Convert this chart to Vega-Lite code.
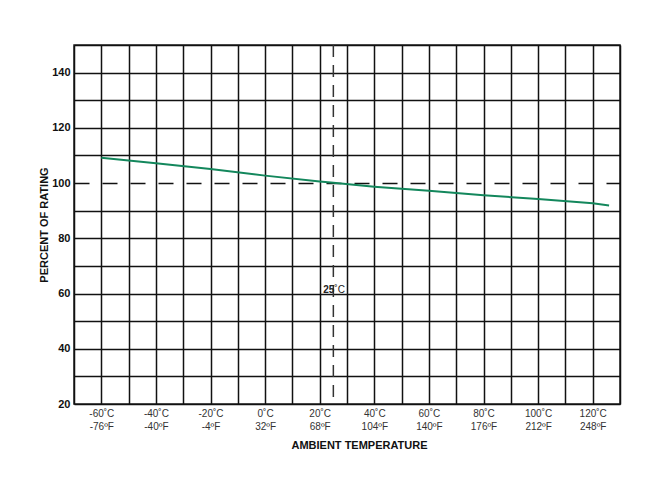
{
  "$schema": "https://vega.github.io/schema/vega-lite/v6.json",
  "autosize": {"type": "none"},
  "width": 546,
  "height": 359,
  "padding": {"left": 74, "top": 45, "right": 27, "bottom": 91},
  "background": "white",
  "config": {
    "font": "Liberation Sans",
    "view": {"stroke": "#222", "strokeWidth": 1.5},
    "axis": {"titleFont": "Liberation Sans", "labelFont": "Liberation Sans"}
  },
  "datasets": {
    "curve": [
      {"temp": -60, "pct": 109.2},
      {"temp": -40, "pct": 107.2},
      {"temp": -20, "pct": 105.1},
      {"temp": 0, "pct": 102.7},
      {"temp": 20, "pct": 100.6},
      {"temp": 25, "pct": 100.1},
      {"temp": 40, "pct": 98.7},
      {"temp": 60, "pct": 97.2},
      {"temp": 80, "pct": 95.6},
      {"temp": 100, "pct": 94.2},
      {"temp": 120, "pct": 92.7},
      {"temp": 126, "pct": 91.9}
    ],
    "ref": [{"temp": 25, "pct": 100}]
  },
  "layer": [
    {
      "data": {"name": "curve"},
      "mark": {"type": "line", "color": "#13875c", "strokeWidth": 2},
      "encoding": {
        "x": {
          "field": "temp", "type": "quantitative",
          "scale": {"domain": [-70, 130], "nice": false, "zero": false},
          "axis": {
            "values": [-70, -60, -50, -40, -30, -20, -10, 0, 10, 20, 30, 40, 50, 60, 70, 80, 90, 100, 110, 120, 130],
            "tickCount": 100,
            "grid": true,
            "gridColor": "#111",
            "gridWidth": 1.5,
            "ticks": false,
            "domain": false,
            "labelOverlap": false,
            "labelExpr": "(datum.value % 20 === 0 && datum.value >= -60 && datum.value <= 120) ? [datum.value + '˚C', round(datum.value * 9 / 5 + 32) + 'ºF'] : ''",
            "labelFontSize": 10,
            "labelColor": "#333",
            "labelLineHeight": 13,
            "labelPadding": 4,
            "title": "AMBIENT TEMPERATURE",
            "titleFontSize": 11,
            "titleFontWeight": "bold",
            "titleColor": "#111",
            "titleX": 285,
            "titlePadding": 8
          }
        },
        "y": {
          "field": "pct", "type": "quantitative",
          "scale": {"domain": [20, 150], "nice": false, "zero": false},
          "axis": {
            "values": [20, 30, 40, 50, 60, 70, 80, 90, 100, 110, 120, 130, 140, 150],
            "tickCount": 100,
            "grid": true,
            "gridColor": "#111",
            "gridWidth": 1.5,
            "gridDash": {"condition": {"test": "datum.value === 100", "value": [15, 13]}, "value": []},
            "ticks": false,
            "domain": false,
            "labelOverlap": false,
            "labelExpr": "datum.value % 20 === 0 && datum.value <= 140 ? datum.label : ''",
            "labelFontWeight": "bold",
            "labelFontSize": 11,
            "labelColor": "#111",
            "labelPadding": 4,
            "title": "PERCENT OF RATING",
            "titleFontSize": 11,
            "titleFontWeight": "bold",
            "titleColor": "#111",
            "titlePadding": 2
          }
        }
      }
    },
    {
      "data": {"name": "ref"},
      "mark": {"type": "rule", "color": "#333", "strokeWidth": 1.5, "strokeDash": [12, 8]},
      "encoding": {
        "x": {"field": "temp", "type": "quantitative"}
      }
    },
    {
      "data": {"name": "ref"},
      "mark": {"type": "text", "text": "25", "align": "right", "baseline": "middle", "fontWeight": "bold", "fontSize": 10, "color": "#222", "dy": -4, "dx": 1},
      "encoding": {
        "x": {"field": "temp", "type": "quantitative"},
        "y": {"datum": 60, "type": "quantitative"}
      }
    },
    {
      "data": {"name": "ref"},
      "mark": {"type": "text", "text": "˚C", "align": "left", "baseline": "middle", "fontSize": 10, "color": "#222", "dy": -4, "dx": 1},
      "encoding": {
        "x": {"field": "temp", "type": "quantitative"},
        "y": {"datum": 60, "type": "quantitative"}
      }
    }
  ]
}
